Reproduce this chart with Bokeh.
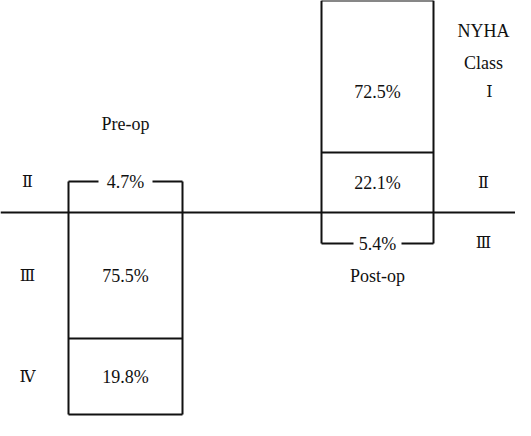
from bokeh.plotting import figure
from bokeh.models import Range1d
from bokeh.core.properties import value
from bokeh.embed import file_html
from bokeh.resources import INLINE

# ---- data ----
pre_values = [4.7, 75.5, 19.8]
pre_labels = ["4.7%", "75.5%", "19.8%"]
pre_classes = ["Ⅱ", "Ⅲ", "Ⅳ"]
post_values = [72.5, 22.1, 5.4]
post_labels = ["72.5%", "22.1%", "5.4%"]
post_classes = ["Ⅰ", "Ⅱ", "Ⅲ"]
# schematic segment boundaries (chart units, baseline = 0, up positive)
pre_bounds = [31, 0, -126, -202]
post_bounds = [212, 60, 0, -31]
group_names = ["Pre-op", "Post-op"]
legend_title = ["NYHA", "Class"]

INK = "#111111"
FONT = value("Liberation Serif")
NUMFONT = value("DejaVu Serif")

p = figure(width=515, height=420, output_backend="svg", toolbar_location=None,
           x_range=Range1d(8, 523), y_range=Range1d(-208, 212),
           min_border=0, outline_line_color=None)
p.axis.visible = False
p.grid.visible = False

# baseline
p.segment(x0=[8], y0=[0], x1=[523], y1=[0], line_color=INK, line_width=2)

def draw_bar(x0, x1, bounds, labels, bracket_top, gap_half, label_y=None):
    top, bottom = bounds[0], bounds[-1]
    xs0, ys0, xs1, ys1 = [], [], [], []
    xs0 += [x0, x1]; ys0 += [top, top]; xs1 += [x0, x1]; ys1 += [bottom, bottom]
    cx = (x0 + x1) / 2
    for i, b in enumerate(bounds):
        if b == 0:
            continue
        is_bracket = (bracket_top and i == 0) or ((not bracket_top) and i == len(bounds) - 1)
        if is_bracket:
            xs0 += [x0, cx + gap_half]; ys0 += [b, b]
            xs1 += [cx - gap_half, x1]; ys1 += [b, b]
        else:
            xs0.append(x0); ys0.append(b); xs1.append(x1); ys1.append(b)
    p.segment(x0=xs0, y0=ys0, x1=xs1, y1=ys1, line_color=INK, line_width=2)
    ys = []
    for i in range(len(labels)):
        if bracket_top and i == 0:
            ys.append(bounds[0])
        elif (not bracket_top) and i == len(labels) - 1:
            ys.append(bounds[-1])
        else:
            ys.append((bounds[i] + bounds[i + 1]) / 2)
    if label_y:
        for k, v in label_y.items():
            ys[k] = v
    p.text(x=[cx] * len(labels), y=ys, text=labels, text_font=FONT,
           text_font_size="18px", text_align="center", text_baseline="middle",
           text_color=INK)
    return ys

pre_y = draw_bar(76, 190, pre_bounds, pre_labels, True, 27)
post_y = draw_bar(329, 441, post_bounds, post_labels, False, 24, {0: 121})

# class labels
p.text(x=[35] * 3, y=pre_y, text=pre_classes, text_font=NUMFONT, text_font_size="16px",
       text_align="center", text_baseline="middle", text_color=INK)
p.text(x=[497, 491, 491], y=[121, post_y[1], post_y[2] + 1], text=post_classes, text_font=NUMFONT,
       text_font_size="16px", text_align="center", text_baseline="middle", text_color=INK)

# titles
p.text(x=[133, 385], y=[89, -63], text=group_names, text_font=FONT, text_font_size="18px",
       text_align="center", text_baseline="middle", text_color=INK)
p.text(x=[491, 491], y=[182, 150], text=legend_title, text_font=FONT, text_font_size="18px",
       text_align="center", text_baseline="middle", text_color=INK)

open("out.html", "w").write(file_html(p, INLINE))
